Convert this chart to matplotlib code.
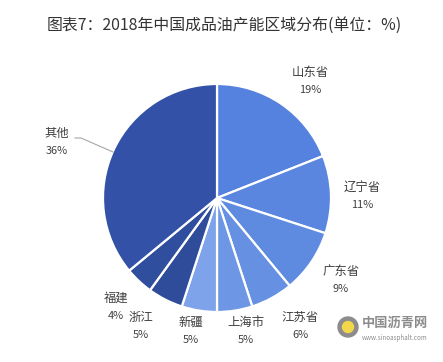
import matplotlib
matplotlib.use("Agg")
import matplotlib.pyplot as plt
from matplotlib.patches import Circle

plt.rcParams['font.family'] = ['Noto Sans CJK SC', 'DejaVu Sans']

title = "图表7：2018年中国成品油产能区域分布(单位：%)"
regions = ["山东省", "辽宁省", "广东省", "江苏省", "上海市", "新疆", "浙江", "福建", "其他"]
shares = [19, 11, 9, 6, 5, 5, 5, 4, 36]
colors = ["#5581DF", "#5A86DF", "#5E8BE0", "#6690E2", "#6D96E4", "#7EA3EA",
          "#2E4C9A", "#2F4E9E", "#3251A7"]
# label anchor positions (pixels from top-left)
label_pos = [(310, 72), (362, 187), (341, 271), (300, 317), (246, 322),
             (191, 322), (141, 317), (116, 298), (57, 133)]

W, H = 443, 362
fig = plt.figure(figsize=(W / 100, H / 100), dpi=100)
ax = fig.add_axes([0, 0, 1, 1])
ax.set_xlim(0, W)
ax.set_ylim(0, H)
ax.set_aspect('equal')
ax.axis('off')

cx, cy, r = 217, H - 198, 114
ax.pie(shares, colors=colors, startangle=90, counterclock=False,
       center=(cx, cy), radius=r, frame=True,
       wedgeprops=dict(edgecolor='white', linewidth=1.6))
ax.set_xlim(0, W)
ax.set_ylim(0, H)
ax.axis('off')

txt = '#404040'
for name, val, (px, py) in zip(regions, shares, label_pos):
    ax.text(px, H - py, name, ha='center', va='center', fontsize=8.9, color=txt)
    ax.text(px, H - py - 18, f"{val}%", ha='center', va='center', fontsize=7.9, color=txt)

# leader line for 其他
ax.plot([75, 81, 113], [H - 138, H - 138, H - 152], color='#A6A6A6', lw=0.8)

ax.text(224, H - 25, title, ha='center', va='center', fontsize=11.4, color='#333333')

# logo watermark bottom right
ax.add_patch(Circle((348, H - 327), 10, color='#8C8C8C', zorder=3))
ax.add_patch(Circle((348, H - 327), 5.5, color='#F2D64B', zorder=4))
ax.text(362, H - 323, "中国沥青网", ha='left', va='center', fontsize=9.5,
        color='#8C8C8C', fontweight='bold')
ax.text(362, H - 338, "www.sinoasphalt.com", ha='left', va='center', fontsize=4.5,
        color='#8C8C8C')

fig.savefig("out.png", dpi=100)
